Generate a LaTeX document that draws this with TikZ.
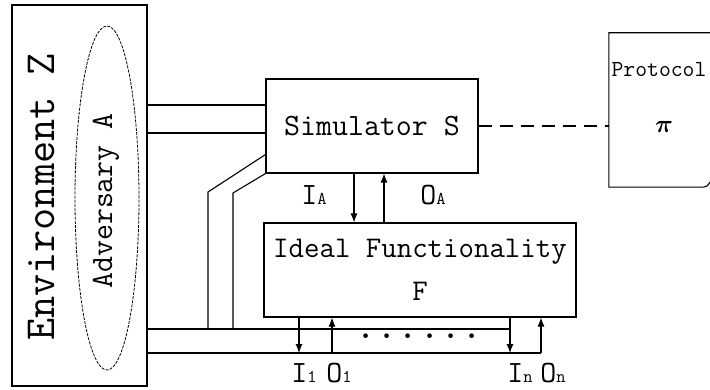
\documentclass[tikz,border=0pt]{standalone}
\usepackage{amsmath}
\usepackage{tikz}
\usetikzlibrary{arrows.meta,positioning,shapes.geometric,calc}

\begin{document}
\begin{tikzpicture}[
  x=1pt,y=-1pt,
  font=\ttfamily\fontsize{31}{34}\selectfont,
  box/.style={draw,line width=1.1pt,align=center,inner sep=0pt},
  wire/.style={line width=1.1pt},
  flow/.style={-{Latex[length=9pt,width=7pt]},line width=1.1pt},
  lbl/.style={font=\ttfamily\fontsize{31}{31}\selectfont,inner sep=0pt}]

\useasboundingbox (0,0) rectangle (710,390);

% ---- nodes ------------------------------------------------------------
\node[box,minimum width=135pt,minimum height=381pt] (env) at (79.5,195.5) {};
\node[rotate=90,font=\ttfamily\fontsize{43}{43}\selectfont] (envlbl) at (41,197) {Environment Z};
\node[ellipse,draw,line width=0.8pt,dash pattern=on 3pt off 1.2pt,
      minimum width=64pt,minimum height=344pt,inner sep=0pt] (adv) at (107,198) {};
\node[rotate=90] (advlbl) at (106,201) {Adversary A};
\node[box,minimum width=212pt,minimum height=94pt] (sim) at (372,126) {Simulator S};
\node[box,minimum width=312pt,minimum height=94pt,font=\ttfamily\fontsize{30}{43}\selectfont]
  (ideal) at (420,270) {Ideal Functionality\\F};
\node[minimum width=104pt,minimum height=154pt,inner sep=0pt] (proto) at (661,110) {};
\node[font=\ttfamily\fontsize{23}{23}\selectfont] (protolbl) at (659,70) {Protocol};
\node[font=\fontsize{24}{24}\selectfont] (pi) at (664,127) {$\boldsymbol{\pi}$};
\node[font=\ttfamily\fontsize{41}{41}\selectfont,inner sep=0pt] (dots) at (419,336) {......};

% ---- labels -----------------------------------------------------------
\node[lbl] (ia) at (314,195) {I{\fontsize{18}{18}\selectfont A}};
\node[lbl] (oa) at (433,195) {O{\fontsize{18}{18}\selectfont A}};
\node[lbl] (i1) at (304,373) {I{\fontsize{18}{18}\selectfont 1}};
\node[lbl] (o1) at (339,373) {O{\fontsize{18}{18}\selectfont 1}};
\node[lbl] (in) at (520,373) {I{\fontsize{18}{18}\selectfont n}};
\node[lbl] (on) at (553,373) {O{\fontsize{18}{18}\selectfont n}};

% ---- protocol frame ---------------------------------------------------
\draw[wire] (proto.north east) -- (proto.north west) -- (proto.south west)
  -- ([xshift=-10pt]proto.south east)
  to[out=0,in=-110] ([yshift=14pt]proto.south east) -- (proto.north east);

% ---- edges ------------------------------------------------------------
\draw[wire] ([yshift=21pt]sim.west) -- ([yshift=21pt]sim.west -| env.east);
\draw[wire] ([yshift=-7pt]sim.west) -- ([yshift=-7pt]sim.west -| env.east);
\draw[wire] ([yshift=19pt]sim.south west) -- (208,192) coordinate (k1) -- (k1 |- 0,329);
\draw[wire] (sim.south west) -- (233,193) coordinate (k2) -- (k2 |- 0,329);
\draw[wire] (env.east |- 0,329) -- ([xshift=90pt]ideal.south |- 0,329);
\draw[wire] (env.east |- 0,353) -- ([xshift=121pt]ideal.south |- 0,353);
\draw[dashed,dash pattern=on 13pt off 8pt,line width=1.1pt] (sim.east) -- (sim.east -| proto.west);

\draw[flow] ([xshift=-18pt]sim.south) -- ([xshift=-18pt]sim.south |- ideal.north);
\draw[flow] ([xshift=12pt]sim.south |- ideal.north) -- ([xshift=12pt]sim.south);
\draw[flow] ([xshift=-121pt]ideal.south) -- ([xshift=-121pt]ideal.south |- 0,353);
\draw[flow] ([xshift=-88pt]ideal.south |- 0,353) -- ([xshift=-88pt]ideal.south);
\draw[flow] ([xshift=90pt]ideal.south) -- ([xshift=90pt]ideal.south |- 0,353);
\draw[flow] ([xshift=121pt]ideal.south |- 0,353) -- ([xshift=121pt]ideal.south);
\end{tikzpicture}
\end{document}
